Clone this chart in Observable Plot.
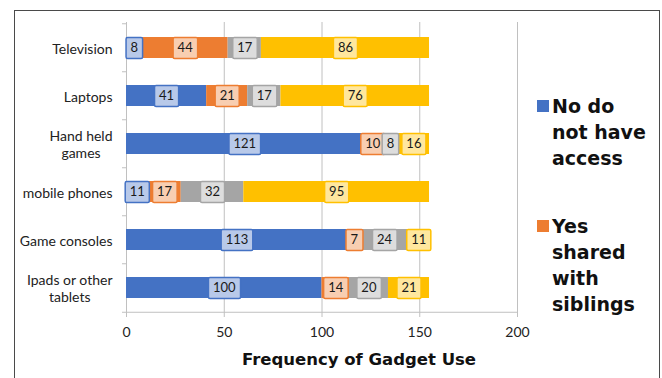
<!DOCTYPE html>
<html><head><meta charset="utf-8">
<script src="https://cdn.jsdelivr.net/npm/d3@7"></script>
<script src="https://cdn.jsdelivr.net/npm/@observablehq/plot@0.6"></script>
<style>
body{margin:0;background:#fff;}
#wrap{position:relative;width:662px;height:378px;overflow:hidden;background:#fff;}
#border{position:absolute;left:14px;top:10px;width:644px;height:420px;border:1px solid #4a4a4a;pointer-events:none;}
.lg{position:absolute;left:537px;font-family:"DejaVu Sans",sans-serif;font-weight:bold;font-size:19px;line-height:26px;color:#111;}
.lg .sw{position:absolute;left:0;width:12px;height:12px;}
.lg .tx{position:absolute;left:15px;top:0;white-space:nowrap;}
</style></head>
<body><div id="wrap"><div id="border"></div></div>
<script>
const categories = ["Television","Laptops","Hand held games","mobile phones","Game consoles","Ipads or other tablets"];
const categoryLabels = ["Television","Laptops","Hand held\ngames","mobile phones","Game consoles","Ipads or other\ntablets"];
const seriesNames = ["No do not have access","Yes shared with siblings","Series 3","Series 4"];
const seriesColors = ["#4472C4","#ED7D31","#A5A5A5","#FFC000"];
const noAccess       = [8, 41, 121, 11, 113, 100];
const sharedSiblings = [44, 21, 10, 17, 7, 14];
const series3        = [17, 17, 8, 32, 24, 20];
const series4        = [86, 76, 16, 95, 11, 21];
const xTicks = [0, 50, 100, 150, 200];
const xTitle = "Frequency of Gadget Use";
const legendLines = [["No do","not have","access"],["Yes","shared","with","siblings"]];

const seriesValues = [noAccess, sharedSiblings, series3, series4];
const data = [];
categories.forEach((cat, i) => {
  seriesNames.forEach((s, j) => data.push({cat, series: s, value: seriesValues[j][i]}));
});

const W = 662, H = 378, mt = 22, mb = 65, ml = 126, mr = 145;
const step = (H - mt - mb) / categories.length;
const pad = 0.567;
const axisGray = "#c0c0c0";

const chart = Plot.plot({
  width: W, height: H, marginTop: mt, marginBottom: mb, marginLeft: ml, marginRight: mr,
  style: {fontFamily: "Lato, sans-serif", background: "transparent", overflow: "visible"},
  x: {domain: [xTicks[0], xTicks[xTicks.length - 1]]},
  y: {domain: categories, paddingInner: pad, paddingOuter: pad / 2, align: 0.5},
  color: {domain: seriesNames, range: seriesColors},
  marks: [
    Plot.gridX({ticks: xTicks, stroke: axisGray, strokeOpacity: 1}),
    Plot.ruleX([xTicks[0]], {stroke: axisGray}),
    Plot.ruleY(categories.slice(-1), {y: d => d, dy: step / 2, stroke: axisGray}),
    Plot.ruleY(categories, {y: d => d, dy: -step / 2, x1: xTicks[0], x2: xTicks[0], insetLeft: -4, stroke: axisGray}),
    Plot.ruleY(categories.slice(-1), {y: d => d, dy: step / 2, x1: xTicks[0], x2: xTicks[0], insetLeft: -4, stroke: axisGray}),
    Plot.barX(data, Plot.stackX({x: "value", y: "cat", fill: "series"})),
    Plot.text(data, Plot.stackX({x: "value", y: "cat", z: "series", fill: "series", text: d => String(d.value), fontSize: 13})),
    Plot.axisX({ticks: xTicks, tickSize: 4, tickPadding: 10, fontSize: 14, stroke: axisGray, fill: "#222", label: null}),
    Plot.axisY({tickSize: 0, tickPadding: 14, fontSize: 14, lineHeight: 1.25, fill: "#222", label: null,
      tickFormat: d => categoryLabels[categories.indexOf(d)]}),
    Plot.text([xTitle], {text: d => d, frameAnchor: "bottom", dx: 37, dy: 51, fontSize: 16.5, fontWeight: "bold", fontFamily: "DejaVu Sans, sans-serif", fill: "#111"})
  ]
});

const wrap = document.getElementById("wrap");
wrap.insertBefore(chart, wrap.firstChild);

const NS = "http://www.w3.org/2000/svg";
const textGroups = Array.from(chart.querySelectorAll('g[aria-label="text"]'));
const lg = textGroups.find(g => g.querySelectorAll("text").length > 1);
if (lg) {
  for (const t of Array.from(lg.querySelectorAll("text"))) {
    const c = t.getAttribute("fill") || "#999";
    const bb = t.getBBox();
    const r = document.createElementNS(NS, "rect");
    r.setAttribute("x", bb.x - 4.5);
    r.setAttribute("y", -10.5);
    r.setAttribute("width", bb.width + 9);
    r.setAttribute("height", 21);
    r.setAttribute("rx", 1.5);
    const tr = t.getAttribute("transform");
    if (tr) r.setAttribute("transform", tr);
    r.setAttribute("fill", d3.interpolateRgb(c, "#fff")(0.62));
    r.setAttribute("stroke", c);
    r.setAttribute("stroke-width", 1.5);
    lg.insertBefore(r, t);
    t.setAttribute("fill", "#1a1a1a");
  }
}
for (const t of chart.querySelectorAll('g[aria-label="y-axis tick label"] text')) {
  const ts = t.querySelectorAll("tspan");
  if (ts.length > 1) {
    const bb = t.getBBox();
    const cx = bb.x + bb.width / 2;
    t.setAttribute("text-anchor", "middle");
    ts.forEach(s => s.setAttribute("x", cx));
  }
}

// legend (only the two visible entries)
const legendTops = [92.5, 212.5];
legendLines.forEach((lines, i) => {
  const d = document.createElement("div");
  d.className = "lg";
  d.style.top = legendTops[i] + "px";
  const sw = document.createElement("div");
  sw.className = "sw";
  sw.style.background = seriesColors[i];
  sw.style.top = "7px";
  const tx = document.createElement("div");
  tx.className = "tx";
  tx.innerHTML = lines.join("<br>");
  d.appendChild(sw); d.appendChild(tx);
  wrap.appendChild(d);
});
</script>
</body></html>
